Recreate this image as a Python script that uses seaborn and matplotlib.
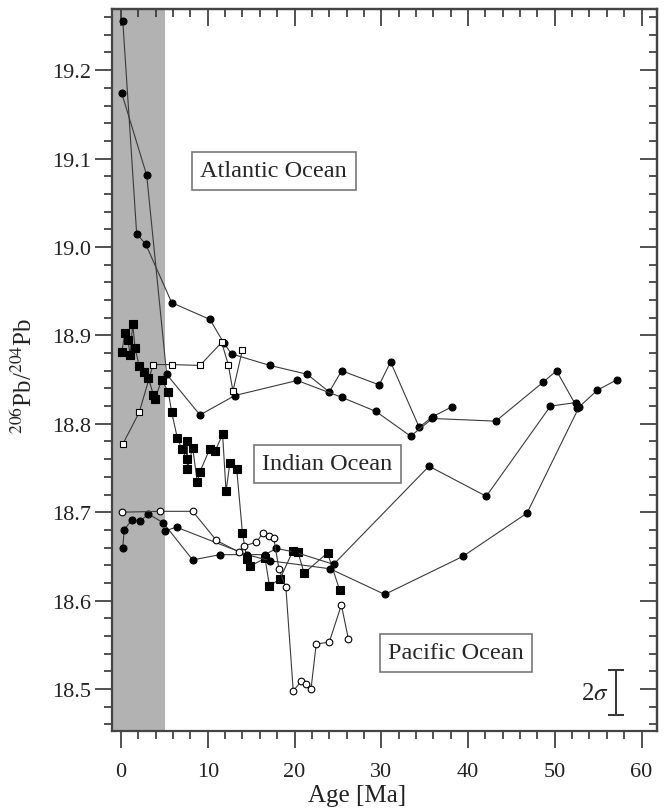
"""
206Pb/204Pb records of Fe-Mn crusts vs age for the Atlantic, Indian and Pacific oceans.
"""

import matplotlib
matplotlib.use('Agg')
import matplotlib.pyplot as plt
from matplotlib.ticker import MultipleLocator
import seaborn as sns

# ---- data ----
atl1_age = [0.2, 1.8, 2.85, 5.84, 10.25, 11.87, 12.75, 17.17, 21.46, 24.0, 25.43,
            29.76, 31.07, 34.37, 35.91, 38.1]
atl1_pb = [19.256, 19.015, 19.003, 18.937, 18.918, 18.891, 18.879, 18.866, 18.856,
           18.836, 18.860, 18.844, 18.870, 18.796, 18.808, 18.819]

atl2_age = [0.08, 2.96, 5.26, 9.1, 13.13, 20.31, 25.43, 29.38, 33.38, 35.9, 43.2,
            48.65, 50.2, 52.6]
atl2_pb = [19.174, 19.081, 18.856, 18.810, 18.832, 18.849, 18.830, 18.814, 18.786,
           18.806, 18.803, 18.847, 18.860, 18.818]

atl3_age = [0.2, 2.1, 3.7, 5.84, 9.1, 11.6, 12.36, 12.9, 14.0]
atl3_pb = [18.777, 18.813, 18.867, 18.867, 18.866, 18.892, 18.867, 18.837, 18.884]

ind_sq_age = [0.08, 0.46, 0.8, 1.04, 1.35, 1.61, 2.1, 2.65, 3.15, 3.72, 3.92, 4.69,
              5.45, 5.84, 6.49, 6.99, 7.57, 7.64, 7.64, 8.26, 8.79, 9.1, 10.25, 10.83,
              11.71, 12.1, 12.56, 13.33, 14.0, 14.5, 14.9, 16.6, 17.1, 18.3, 19.8,
              20.4, 21.1, 23.8, 25.2]
ind_sq_pb = [18.881, 18.903, 18.895, 18.878, 18.913, 18.886, 18.865, 18.859, 18.852,
             18.833, 18.828, 18.850, 18.836, 18.813, 18.784, 18.772, 18.760, 18.780,
             18.749, 18.773, 18.734, 18.746, 18.772, 18.769, 18.788, 18.724, 18.756,
             18.749, 18.676, 18.647, 18.639, 18.648, 18.617, 18.624, 18.656, 18.655,
             18.631, 18.654, 18.612]

ind_ci_age = [0.2, 0.35, 1.23, 2.2, 3.15, 4.87, 8.26, 11.4, 16.6, 17.9, 20.0, 24.5,
              35.5, 42.1, 49.5, 52.4]
ind_ci_pb = [18.659, 18.680, 18.691, 18.690, 18.698, 18.688, 18.646, 18.652, 18.652,
             18.659, 18.655, 18.641, 18.752, 18.718, 18.820, 18.824]

pac_ci_age = [5.07, 6.4, 14.5, 17.2, 24.1, 30.4, 39.4, 46.8, 52.8, 54.9, 57.2]
pac_ci_pb = [18.679, 18.683, 18.652, 18.645, 18.636, 18.607, 18.650, 18.699, 18.819,
             18.838, 18.850]

pac_oc_age = [0.08, 4.5, 8.26, 11.0, 13.6, 14.2, 15.6, 16.4, 17.0, 17.6, 18.2, 19.0,
              19.85, 20.8, 21.3, 21.9, 22.5, 24.0, 25.4, 26.2]
pac_oc_pb = [18.700, 18.701, 18.701, 18.668, 18.655, 18.662, 18.666, 18.677, 18.673,
             18.671, 18.636, 18.615, 18.498, 18.509, 18.506, 18.500, 18.551, 18.553,
             18.595, 18.557]

ocean_labels = ['Atlantic Ocean', 'Indian Ocean', 'Pacific Ocean']
label_x = [17.6, 23.8, 38.6]
label_y = [19.086, 18.755, 18.541]

sns.set_style('ticks')
plt.rcParams['font.family'] = ['Liberation Serif', 'DejaVu Serif']
plt.rcParams['mathtext.fontset'] = 'stix'

fig = plt.figure(figsize=(6.64, 8.12), dpi=100)
ax = fig.add_axes([0.1687, 0.0985, 0.8215, 0.889])

line_kw = dict(color='#3a3a3a', linewidth=0.8, sort=False, estimator=None, ax=ax)

series = [
    (atl1_age, atl1_pb, 'o', 'black', 5.0),
    (atl2_age, atl2_pb, 'o', 'black', 5.0),
    (atl3_age, atl3_pb, 's', 'white', 5.0),
    (ind_sq_age, ind_sq_pb, 's', 'black', 5.6),
    (ind_ci_age, ind_ci_pb, 'o', 'black', 5.0),
    (pac_ci_age, pac_ci_pb, 'o', 'black', 5.0),
    (pac_oc_age, pac_oc_pb, 'o', 'white', 4.8),
]
for age, pb, mk, face, ms in series:
    sns.lineplot(x=age, y=pb, marker=mk, markerfacecolor=face, markeredgecolor='black',
                 markeredgewidth=0.8, markersize=ms, **line_kw)

ax.axvspan(-1.04, 5.1, color='#b2b2b2', zorder=0, linewidth=0)

for txt, x, y in zip(ocean_labels, label_x, label_y):
    ax.text(x, y, txt, ha='center', va='center', fontsize=17.5,
            bbox=dict(boxstyle='square,pad=0.35', facecolor='white',
                      edgecolor='#777777', linewidth=1.2))

# 2 sigma error bar
ax.errorbar([57.1], [18.496], yerr=[0.0255], color='#333333', capsize=6,
            linewidth=1.4, capthick=1.4)
ax.text(56.2, 18.496, r'2$\sigma$', ha='right', va='center', fontsize=18)

ax.set_xlim(-1.04, 61.84)
ax.set_ylim(18.4525, 19.269)
ax.xaxis.set_major_locator(MultipleLocator(10))
ax.xaxis.set_minor_locator(MultipleLocator(2))
ax.yaxis.set_major_locator(MultipleLocator(0.1))
ax.yaxis.set_minor_locator(MultipleLocator(0.02))
ax.yaxis.set_major_formatter(plt.FormatStrFormatter('%.1f'))
ax.tick_params(which='major', direction='out', length=12, width=1.2,
               labelsize=16, colors='#333333')
ax.tick_params(which='minor', direction='out', length=6, width=1.2, colors='#333333')
ax.tick_params(axis='both', labelcolor='#222222')
ax.tick_params(axis='x', which='major', pad=10)
ax.tick_params(axis='y', which='major', pad=3)

top = ax.secondary_xaxis('top')
top.xaxis.set_major_locator(MultipleLocator(10))
top.xaxis.set_minor_locator(MultipleLocator(2))
top.tick_params(which='major', direction='in', length=12, width=1.2, labeltop=False,
                colors='#333333')
top.tick_params(which='minor', direction='in', length=6, width=1.2, colors='#333333')
right = ax.secondary_yaxis('right')
right.yaxis.set_major_locator(MultipleLocator(0.1))
right.yaxis.set_minor_locator(MultipleLocator(0.02))
right.tick_params(which='major', direction='in', length=12, width=1.2, labelright=False,
                  colors='#333333')
right.tick_params(which='minor', direction='in', length=6, width=1.2, colors='#333333')

for sp in list(ax.spines.values()) + [top.spines['top'], right.spines['right']]:
    sp.set_linewidth(1.6)
    sp.set_color('#444444')

ax.set_xlabel('Age [Ma]', fontsize=18, color='#222222')
ax.set_ylabel(r'$^{206}$Pb/$^{204}$Pb', fontsize=18, color='#222222')
ax.xaxis.set_label_coords(0.45, -0.073)
ax.yaxis.set_label_coords(-0.138, 0.494)

fig.savefig('out.png', dpi=100)
